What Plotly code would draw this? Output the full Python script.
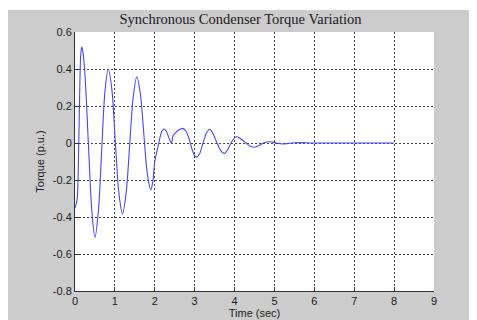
import plotly.graph_objects as go

# Torque trace
time_s = [0.00, 0.03, 0.06, 0.09, 0.12, 0.145, 0.17, 0.20, 0.25, 0.335, 0.42, 0.50,
          0.584, 0.667, 0.75, 0.835, 0.924, 1.01, 1.10, 1.19, 1.28, 1.37, 1.46, 1.55,
          1.6375, 1.725, 1.81, 1.90, 1.95, 2.00, 2.06, 2.12, 2.18, 2.24, 2.30, 2.36,
          2.42, 2.46, 2.52, 2.60, 2.70, 2.78, 2.85, 2.93, 3.00, 3.05, 3.12, 3.21,
          3.30, 3.38, 3.46, 3.56, 3.65, 3.74, 3.83, 3.91, 4.00, 4.07, 4.17, 4.29,
          4.40, 4.51, 4.62, 4.72, 4.80, 4.89, 5.00, 5.10, 5.20, 5.35, 5.50, 5.70,
          5.90, 6.50, 7.00, 7.50, 8.00]
torque_pu = [-0.35, -0.33, -0.29, -0.05, 0.30, 0.48, 0.52, 0.49, 0.37, 0.0, -0.36, -0.51,
             -0.375, -0.05, 0.275, 0.40, 0.29, 0.01, -0.27, -0.384, -0.275, -0.013, 0.25, 0.358,
             0.268, 0.05, -0.16, -0.254, -0.21, -0.10, -0.04, 0.02, 0.065, 0.076, 0.06, 0.025,
             0.0, 0.04, 0.055, 0.07, 0.079, 0.065, 0.03, -0.03, -0.07, -0.077, -0.06, 0.0,
             0.055, 0.074, 0.05, 0.0, -0.04, -0.056, -0.035, 0.0, 0.028, 0.034, 0.02, 0.0,
             -0.018, -0.023, -0.013, 0.0, 0.005, 0.007, 0.003, -0.003, -0.005, -0.002, 0.001, 0.002,
             0.0, 0.0, 0.0, 0.0, 0.0]

x_ticks = [0, 1, 2, 3, 4, 5, 6, 7, 8, 9]
x_tick_labels = ["0", "1", "2", "3", "4", "5", "6", "7", "8", "9"]
y_ticks = [-0.8, -0.6, -0.4, -0.2, 0, 0.2, 0.4, 0.6]
y_tick_labels = ["-0.8", "-0.6", "-0.4", "-0.2", "0", "0.2", "0.4", "0.6"]

title_text = "Synchronous Condenser Torque Variation"
x_title = "Time (sec)"
y_title = "Torque (p.u.)"

fig = go.Figure()
fig.add_trace(go.Scatter(
    x=time_s, y=torque_pu, mode="lines",
    line=dict(color="#4646ff", width=1.1, shape="spline", smoothing=0.9),
    showlegend=False, hoverinfo="skip"))

# The page body has an 8px margin, so the figure starts at (8, 8) on the page.
W, H = 469, 312
L, R, T, B = 67, 43, 24, 29
pw, ph = W - L - R, H - T - B

fig.update_layout(
    width=W, height=H,
    margin=dict(l=L, r=R, t=T, b=B, pad=0, autoexpand=False),
    paper_bgcolor="white",
    plot_bgcolor="white",
    title=dict(text=title_text, x=232.5 / W, xanchor="center",
               y=1 - 11 / H, yanchor="middle", automargin=False,
               font=dict(family="Liberation Serif, Times New Roman, serif", size=14.5, color="#1a1a1a")),
    font=dict(family="Liberation Sans, Arial, sans-serif", size=11, color="#1a1a1a"),
    shapes=[
        dict(type="rect", xref="paper", yref="paper", layer="below",
             x0=-0.3, x1=1.3, y0=-0.3, y1=(H - B - 2) / ph,
             fillcolor="#cccccc", line=dict(width=0)),
        dict(type="rect", xref="paper", yref="paper", layer="below",
             x0=0, x1=1, y0=0, y1=1, fillcolor="white", line=dict(width=0)),
    ],
)

fig.update_xaxes(
    range=[0, 9], tickvals=x_ticks, ticktext=x_tick_labels, automargin=False,
    showline=True, linecolor="#333333", linewidth=1,
    ticks="inside", ticklen=4, tickcolor="#333333",
    showgrid=True, gridcolor="#444444", gridwidth=1, griddash="2px,2px",
    zeroline=False,
    title=dict(text=x_title, standoff=2, font=dict(size=11)),
    tickfont=dict(size=11),
)
fig.update_yaxes(
    range=[-0.8, 0.6], tickvals=y_ticks, ticktext=y_tick_labels, automargin=False,
    showline=True, linecolor="#333333", linewidth=1,
    ticks="inside", ticklen=4, tickcolor="#333333",
    showgrid=True, gridcolor="#444444", gridwidth=1, griddash="2px,2px",
    zeroline=False,
    title=dict(text=y_title, standoff=5, font=dict(size=11)),
    tickfont=dict(size=11),
)

fig.write_html("out.html")
